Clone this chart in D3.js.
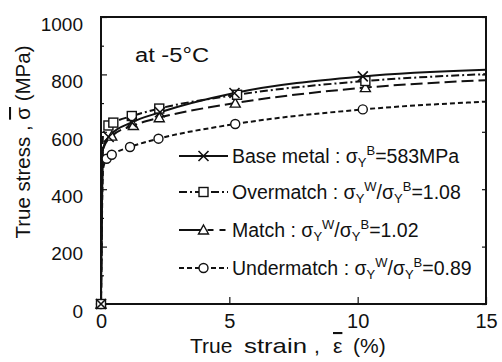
<!DOCTYPE html>
<html><head><meta charset="utf-8">
<script src="https://cdn.jsdelivr.net/npm/d3@7"></script>
<style>
html,body{margin:0;padding:0;background:#fff;}
svg text{font-family:"Liberation Sans",Arial,Helvetica,sans-serif;fill:#111;}
</style></head>
<body>
<svg id="c" width="502" height="362"></svg>
<script>
// ---- data ----
const xTicks = [0, 5, 10, 15];
const yTicks = [0, 200, 400, 600, 800, 1000];
const yMinorTicks = [100, 300, 500, 700, 900];

const baseStrain  = [0, 0.08, 0.3, 1.2, 2.3, 5.2, 10.2, 15];
const baseStress  = [0, 540, 582, 633, 668, 735, 793, 816];
const baseMark    = [1, 0, 1, 1, 1, 1, 1, 0];

const overStrain  = [0, 0.08, 0.29, 0.48, 1.2, 2.27, 5.3, 10.3, 15];
const overStress  = [0, 590, 622, 632, 655, 681, 729, 777, 801];
const overMark    = [1, 0, 1, 1, 1, 1, 1, 1, 0];

const matchStrain = [0, 0.08, 0.42, 1.26, 2.27, 5.23, 10.3, 15];
const matchStress = [0, 540, 585, 622, 649, 700, 754, 780];
const matchMark   = [1, 0, 1, 1, 1, 1, 1, 0];

const underStrain = [0, 0.08, 0.22, 0.42, 1.13, 2.24, 5.23, 10.2, 15];
const underStress = [0, 470, 506, 520, 547, 576, 627, 678, 705];
const underMark   = [1, 0, 1, 1, 1, 1, 1, 1, 0];

const seriesNames  = ["Base metal", "Overmatch", "Match", "Undermatch"];
const ratioLabels  = [null, "1.08", "1.02", "0.89"];
const baseYield    = "583MPa";
const annotation   = "at -5°C";

// ---- layout ----
const svg = d3.select("#c");
const L = 101, R = 486, T = 17, B = 304;
const x = d3.scaleLinear().domain([0, 15]).range([L, R]);
const y = d3.scaleLinear().domain([0, 1000]).range([B, T]);

const styles = [
  {dash: null,        marker: "x"},
  {dash: "8,3,2,3",   marker: "square"},
  {dash: "12,5",      marker: "triangle"},
  {dash: "5,3",       marker: "circle"}
];
const series = [
  {s: baseStrain,  v: baseStress,  m: baseMark},
  {s: overStrain,  v: overStress,  m: overMark},
  {s: matchStrain, v: matchStress, m: matchMark},
  {s: underStrain, v: underStress, m: underMark}
];

// frame
svg.append("rect").attr("x", L).attr("y", T).attr("width", R - L).attr("height", B - T)
  .attr("fill", "none").attr("stroke", "#111").attr("stroke-width", 2);

// axes (ticks inward)
const gx = svg.append("g").attr("transform", `translate(0,${B})`)
  .call(d3.axisBottom(x).tickValues(xTicks).tickSize(-7).tickPadding(14).tickFormat(d3.format("d")));
const gy = svg.append("g").attr("transform", `translate(${L},0)`)
  .call(d3.axisLeft(y).tickValues(yTicks).tickSize(-6).tickPadding(18).tickFormat(d3.format("d")));
const gyMinor = svg.append("g").attr("transform", `translate(${L},0)`)
  .call(d3.axisLeft(y).tickValues(yMinorTicks).tickSize(-3).tickFormat(""));
const gyR = svg.append("g").attr("transform", `translate(${R},0)`)
  .call(d3.axisRight(y).tickValues(yTicks).tickSize(-4).tickFormat(""));
[gx, gy, gyMinor, gyR].forEach(g => {
  g.select(".domain").remove();
  g.selectAll(".tick line").attr("stroke", "#111").attr("stroke-width", 1.2);
});
gx.selectAll(".tick text").attr("font-size", 20).attr("fill", "#111").attr("dy", "0.5em");
gy.selectAll(".tick text").attr("font-size", 19).attr("fill", "#111").attr("dy", "0.7em");

// lines
const line = d3.line().x(d => x(d[0])).y(d => y(d[1])).curve(d3.curveMonotoneX);
function drawMarker(g, type, cx, cy) {
  if (type === "x") {
    g.append("path").attr("d", `M${cx-5},${cy-5}L${cx+5},${cy+5}M${cx-5},${cy+5}L${cx+5},${cy-5}`)
      .attr("stroke", "#111").attr("stroke-width", 1.6).attr("fill", "none");
  } else if (type === "square") {
    g.append("rect").attr("x", cx - 4.5).attr("y", cy - 4.5).attr("width", 9).attr("height", 9)
      .attr("fill", "#fff").attr("stroke", "#111").attr("stroke-width", 1.4);
  } else if (type === "triangle") {
    g.append("path").attr("d", `M${cx},${cy-5}L${cx+5},${cy+4}L${cx-5},${cy+4}Z`)
      .attr("fill", "#fff").attr("stroke", "#111").attr("stroke-width", 1.4);
  } else {
    g.append("circle").attr("cx", cx).attr("cy", cy).attr("r", 4.5)
      .attr("fill", "#fff").attr("stroke", "#111").attr("stroke-width", 1.4);
  }
}
const plot = svg.append("g");
series.forEach((sr, i) => {
  const pts = sr.s.map((s, k) => [s, sr.v[k]]);
  plot.append("path").datum(pts).attr("d", line).attr("fill", "none")
    .attr("stroke", "#111").attr("stroke-width", 2)
    .attr("stroke-dasharray", styles[i].dash);
});
series.slice().reverse().forEach((sr, ri) => {
  const i = series.length - 1 - ri;
  const g = plot.append("g");
  sr.s.forEach((s, k) => { if (sr.m[k]) drawMarker(g, styles[i].marker, x(s), y(sr.v[k])); });
});

// annotation
svg.append("text").attr("x", 135).attr("y", 62).attr("font-size", 20)
  .attr("textLength", 74).attr("lengthAdjust", "spacingAndGlyphs").text(annotation);

// legend
const legX0 = 179, legX1 = 228, legTextX = 232;
const legY = [156, 192, 230, 268];
seriesNames.forEach((name, i) => {
  const ly = legY[i];
  const g = svg.append("g");
  if (i === 2) {
    g.append("line").attr("x1", legX0).attr("x2", (legX0 + legX1) / 2).attr("y1", ly).attr("y2", ly)
      .attr("stroke", "#111").attr("stroke-width", 2);
    g.append("line").attr("x1", (legX0 + legX1) / 2).attr("x2", legX1).attr("y1", ly).attr("y2", ly)
      .attr("stroke", "#111").attr("stroke-width", 2).attr("stroke-dasharray", "6,6").attr("stroke-dashoffset", -4);
  } else {
    g.append("line").attr("x1", legX0).attr("x2", legX1).attr("y1", ly).attr("y2", ly)
      .attr("stroke", "#111").attr("stroke-width", 2).attr("stroke-dasharray", styles[i].dash);
  }
  drawMarker(g, styles[i].marker, (legX0 + legX1) / 2, ly);

  const t = g.append("text").attr("x", legTextX).attr("y", ly + 7).attr("font-size", 19.5);
  const parts = [{t: name + " : σ", d: 0}];
  if (i === 0) {
    parts.push({t: "Y", d: 4, s: 13}, {t: "B", d: -12, s: 13}, {t: "=" + baseYield, d: 8});
  } else {
    parts.push({t: "Y", d: 4, s: 13}, {t: "W", d: -12, s: 13}, {t: "/σ", d: 8},
               {t: "Y", d: 4, s: 13}, {t: "B", d: -12, s: 13}, {t: "=" + ratioLabels[i], d: 8});
  }
  parts.forEach(p => {
    const ts = t.append("tspan").attr("dy", p.d).text(p.t);
    if (p.s) ts.attr("font-size", p.s);
  });
});

// axis titles
const xt = svg.append("text").attr("y", 353).attr("font-size", 21);
xt.append("tspan").attr("x", 190).text("True");
xt.append("tspan").attr("x", 244).attr("textLength", 63).attr("lengthAdjust", "spacingAndGlyphs").text("strain");
xt.append("tspan").attr("x", 314).text(",");
xt.append("tspan").attr("x", 333).attr("text-decoration", "overline").text("ε");
xt.append("tspan").attr("x", 353).text("(%)");

const yt = svg.append("text").attr("transform", "translate(30,142) rotate(-90)")
  .attr("text-anchor", "middle").attr("font-size", 20.5);
yt.append("tspan").text("True  stress , ");
yt.append("tspan").attr("text-decoration", "overline").text("σ");
yt.append("tspan").text(" (MPa)");
</script>
</body></html>
